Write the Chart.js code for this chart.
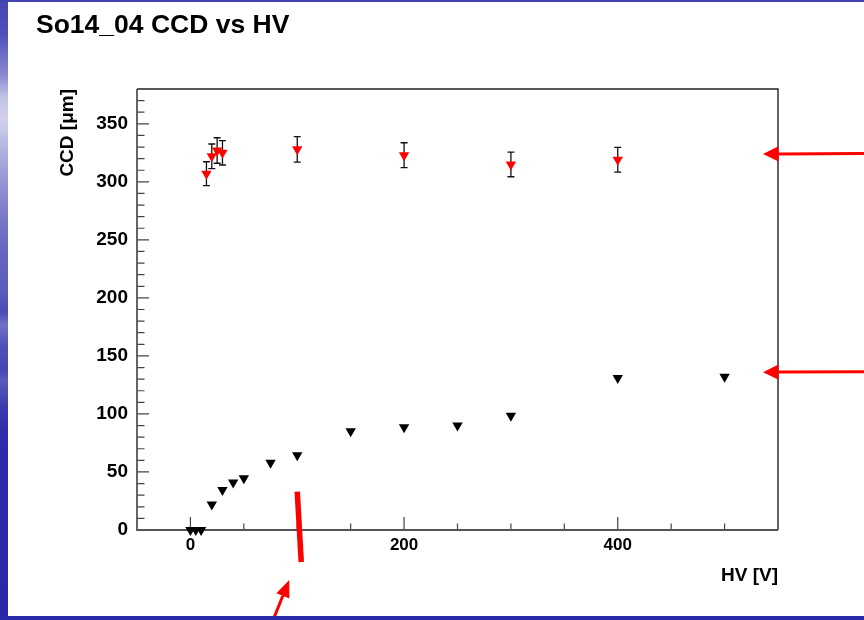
<!DOCTYPE html>
<html>
<head>
<meta charset="utf-8">
<title>So14_04 CCD vs HV</title>
<script src="https://cdn.jsdelivr.net/npm/chart.js@4.4.1/dist/chart.umd.min.js"></script>
<style>
  html, body { margin: 0; padding: 0; background: #fff; }
  body { width: 864px; height: 620px; position: relative; overflow: hidden; }
  #chart { position: absolute; left: 0; top: 0; }
  .side {
    position: absolute; left: 0; top: 0; width: 8px; height: 620px;
    background: linear-gradient(to bottom,
      #4646b6 0px, #5050ba 35px, #8a8ad0 75px, #c4c4e6 98px, #d2d2ee 120px,
      #b4b4e0 148px, #9696d4 180px, #7a7ac8 215px, #6666c0 250px, #5c5cbc 290px,
      #4a4ab4 312px, #7272c6 325px, #5050b8 345px, #4646b4 370px, #5a5aba 380px,
      #3e3eb0 405px, #2e2eaa 432px, #2828a8 620px);
  }
  .top-rule { position: absolute; left: 0; top: 0; width: 864px; height: 2px; background: #4242b2; }
  .bottom-rule { position: absolute; left: 0; top: 616px; width: 864px; height: 4px; background: #2a2aa8; }
  h1 {
    position: absolute; left: 36px; top: 10.5px; margin: 0;
    font: bold 26.5px/1 "Liberation Sans", Arial, sans-serif; color: #000;
  }
</style>
</head>
<body>
<canvas id="chart" width="864" height="620"></canvas>
<div class="side"></div>
<div class="top-rule"></div>
<div class="bottom-rule"></div>
<h1>So14_04 CCD vs HV</h1>
<script>
// upper series (with errors)
const HV_RED = [15, 20, 25, 30, 100, 200, 300, 400];
const CCD_RED = [307, 322, 327, 325, 328, 323, 315, 319];
const CCD_RED_ERR = [10.3, 10.6, 11, 10.5, 11, 10.7, 10.6, 10.7];

// lower series
const HV_BLACK = [0, 5, 10, 20, 30, 40, 50, 75, 100, 150, 200, 250, 300, 400, 500];
const CCD_BLACK = [0, 0, 0, 22, 34.5, 41, 44.5, 58, 64.5, 85, 88.5, 90, 98.5, 131, 132];

const X_LABELS = [0, 200, 400];
const Y_LABELS = [0, 50, 100, 150, 200, 250, 300, 350];

// levels pointed at by the arrows on the right
const ARROW_LEVELS = [324, 136];
const MARK_HV = 100;

const FONT = '"Liberation Sans", Arial, sans-serif';

function drawArrow(ctx, x0, y0, x1, y1, w, headLen, headHalf) {
  const ang = Math.atan2(y1 - y0, x1 - x0);
  const bx = x1 - headLen * Math.cos(ang);
  const by = y1 - headLen * Math.sin(ang);
  ctx.lineWidth = w;
  ctx.beginPath();
  ctx.moveTo(x0, y0);
  ctx.lineTo(bx, by);
  ctx.stroke();
  ctx.beginPath();
  ctx.moveTo(x1, y1);
  ctx.lineTo(bx - headHalf * Math.sin(ang), by + headHalf * Math.cos(ang));
  ctx.lineTo(bx + headHalf * Math.sin(ang), by - headHalf * Math.cos(ang));
  ctx.closePath();
  ctx.fill();
}

// frame with inward ticks, ROOT style
const frame = {
  id: 'frame',
  beforeDatasetsDraw(chart) {
    const { ctx, chartArea: a, scales: { x, y } } = chart;
    ctx.save();
    ctx.strokeStyle = '#444';
    ctx.lineWidth = 1.2;
    ctx.beginPath();
    y.ticks.forEach(t => {
      const v = Math.round(t.value);
      if (v <= y.min || v >= y.max) return;
      const py = y.getPixelForValue(v);
      const len = v % 50 === 0 ? 12 : 7.5;
      ctx.moveTo(a.left, py);
      ctx.lineTo(a.left + len, py);
    });
    x.ticks.forEach(t => {
      const v = Math.round(t.value);
      if (v <= x.min || v >= x.max) return;
      const px = x.getPixelForValue(v);
      const len = v % 200 === 0 ? 13 : 6.5;
      ctx.moveTo(px, a.bottom);
      ctx.lineTo(px, a.bottom - len);
    });
    ctx.stroke();

    ctx.strokeStyle = '#222';
    ctx.lineWidth = 1.4;
    ctx.beginPath();
    ctx.moveTo(a.left, a.top);
    ctx.lineTo(a.right, a.top);
    ctx.lineTo(a.right, a.bottom);
    ctx.stroke();

    ctx.strokeStyle = '#555';
    ctx.lineWidth = 1.8;
    ctx.beginPath();
    ctx.moveTo(a.left, a.top);
    ctx.lineTo(a.left, a.bottom);
    ctx.lineTo(a.right, a.bottom);
    ctx.stroke();
    ctx.restore();
  }
};

const errorBars = {
  id: 'errorBars',
  beforeDatasetsDraw(chart) {
    const { ctx, scales: { x, y } } = chart;
    ctx.save();
    ctx.strokeStyle = '#111';
    ctx.lineWidth = 1.3;
    HV_RED.forEach((hv, i) => {
      const px = x.getPixelForValue(hv);
      const top = y.getPixelForValue(CCD_RED[i] + CCD_RED_ERR[i]);
      const bot = y.getPixelForValue(CCD_RED[i] - CCD_RED_ERR[i]);
      ctx.beginPath();
      ctx.moveTo(px, top); ctx.lineTo(px, bot);
      ctx.moveTo(px - 3.5, top); ctx.lineTo(px + 3.5, top);
      ctx.moveTo(px - 3.5, bot); ctx.lineTo(px + 3.5, bot);
      ctx.stroke();
    });
    ctx.restore();
  }
};

// red call-out arrows and the marker line
const callouts = {
  id: 'callouts',
  afterDraw(chart) {
    const { ctx, chartArea: a, scales: { x, y } } = chart;
    ctx.save();
    ctx.fillStyle = '#ff0000';
    ctx.strokeStyle = '#ff0000';
    ARROW_LEVELS.forEach(v => {
      const py = y.getPixelForValue(v);
      drawArrow(ctx, chart.width + 2, py - 0.5, a.right - 15, py, 3, 15.5, 7.7);
    });

    const mx = x.getPixelForValue(MARK_HV);
    ctx.lineWidth = 5.5;
    ctx.beginPath();
    ctx.moveTo(mx, y.getPixelForValue(33));
    ctx.lineTo(mx + 4, a.bottom + 32);
    ctx.stroke();

    drawArrow(ctx, mx - 25, a.bottom + 92, mx - 8, a.bottom + 50, 3, 17, 7);
    ctx.restore();
  }
};

const tri = {
  pointStyle: 'triangle',
  rotation: 180,
  radius: 6,
  hoverRadius: 6,
  borderWidth: 0,
  showLine: false,
  clip: false
};

new Chart(document.getElementById('chart').getContext('2d'), {
  type: 'scatter',
  data: {
    datasets: [
      {
        label: 'lower',
        data: HV_BLACK.map((hv, i) => ({ x: hv, y: CCD_BLACK[i] })),
        backgroundColor: '#000',
        borderColor: '#000',
        ...tri
      },
      {
        label: 'upper',
        data: HV_RED.map((hv, i) => ({ x: hv, y: CCD_RED[i] })),
        backgroundColor: '#ff0000',
        borderColor: '#ff0000',
        ...tri
      }
    ]
  },
  options: {
    responsive: false,
    animation: false,
    devicePixelRatio: 1,
    layout: { padding: { top: 89, right: 86, bottom: 0, left: 0 } },
    plugins: {
      legend: { display: false },
      tooltip: { enabled: false }
    },
    scales: {
      x: {
        type: 'linear',
        min: -50,
        max: 550,
        grid: { display: false, drawTicks: false },
        border: { display: false },
        ticks: {
          stepSize: 50,
          autoSkip: false,
          maxRotation: 0,
          padding: 5,
          color: '#000',
          font: { family: FONT, size: 17, weight: 'bold' },
          callback: v => X_LABELS.includes(Math.round(v)) ? String(Math.round(v)) : ''
        },
        title: {
          display: true,
          text: 'HV [V]',
          align: 'end',
          color: '#000',
          padding: { top: 0, bottom: 33 },
          font: { family: FONT, size: 19, weight: 'bold' }
        },
        afterFit: s => { s.height = 90; }
      },
      y: {
        type: 'linear',
        min: 0,
        max: 380,
        grid: { display: false, drawTicks: false },
        border: { display: false },
        ticks: {
          stepSize: 10,
          autoSkip: false,
          padding: 9,
          color: '#000',
          font: { family: FONT, size: 19, weight: 'bold' },
          callback: v => Y_LABELS.includes(Math.round(v)) ? String(Math.round(v)) : ''
        },
        title: {
          display: true,
          text: 'CCD [μm]',
          align: 'end',
          color: '#000',
          padding: { top: 56, bottom: 0 },
          font: { family: FONT, size: 19, weight: 'bold' }
        },
        afterFit: s => { s.width = 137; }
      }
    }
  },
  plugins: [frame, errorBars, callouts]
});
</script>
</body>
</html>
